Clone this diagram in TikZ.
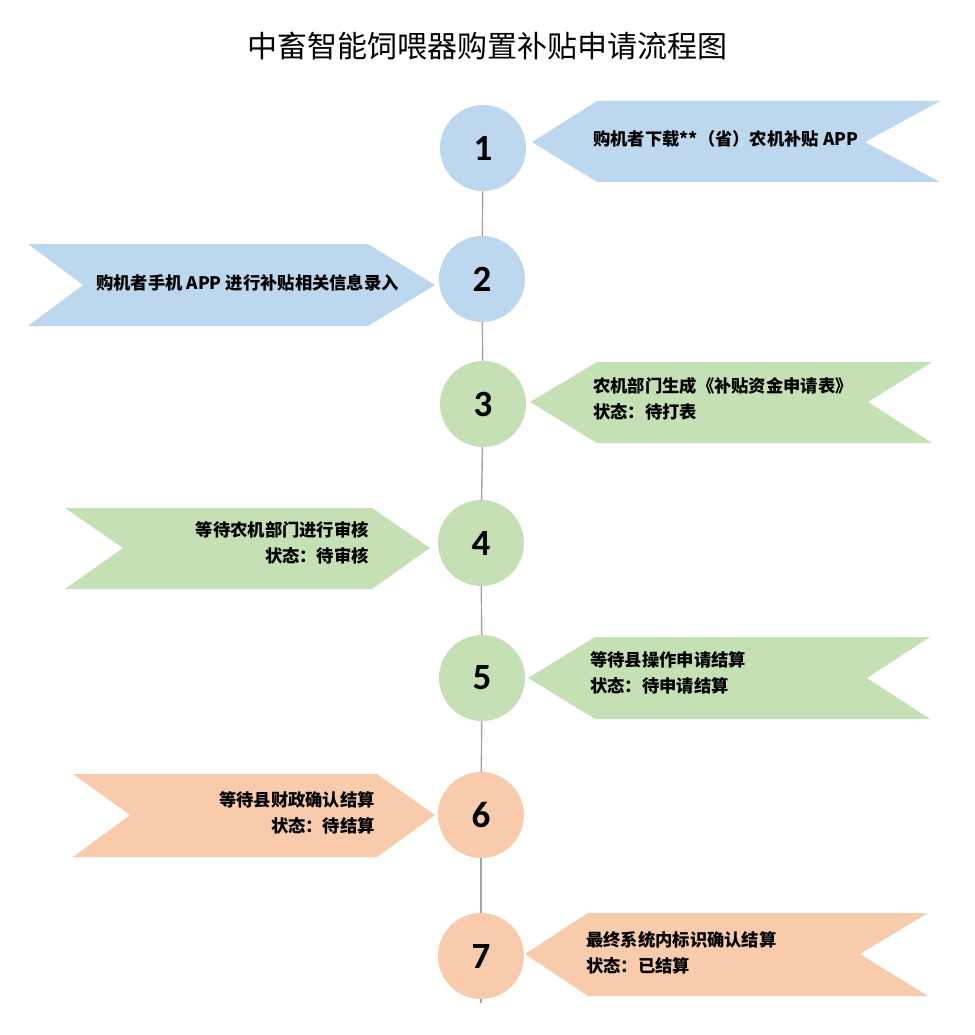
\documentclass[tikz,border=0pt]{standalone}
\usepackage{fontspec}
\newfontfamily\cjk{Noto Sans CJK SC}
\newfontfamily\numfont{Carlito}
\definecolor{cblue}{HTML}{BDD7EE}
\definecolor{cgreen}{HTML}{C5E0B4}
\definecolor{corange}{HTML}{F8CBAD}
\definecolor{lgray}{HTML}{A6A6A6}
\tikzset{
  stepcirc/.style={circle,inner sep=0pt,minimum size=86pt,font=\numfont\bfseries\fontsize{37}{37}\selectfont},
  lbltext/.style={inner sep=0pt,font=\cjk\bfseries\fontsize{17.3}{26}\selectfont},
  linkline/.style={draw=lgray,line width=1.4pt},
}
\begin{document}
\begin{tikzpicture}[x=1pt,y=-1pt]
\useasboundingbox (0,0) rectangle (974,1035);
\node[font=\cjk\fontsize{30}{30}\selectfont] (title) at (487,46) {中畜智能饲喂器购置补贴申请流程图};
% banners
\fill[cblue] (532,142) -- (597,101) -- (940,101) -- (865,142) -- (940,182) -- (597,182) -- cycle;
\fill[cblue] (28,244) -- (368,244) -- (435,285) -- (368,326) -- (28,326) -- (83,285) -- cycle;
\fill[cgreen] (530,402) -- (597,362) -- (932,362) -- (868,402) -- (932,443) -- (597,443) -- cycle;
\fill[cgreen] (65,508) -- (372,508) -- (430,548) -- (372,589) -- (65,589) -- (123,548) -- cycle;
\fill[cgreen] (528,678) -- (595,637) -- (930,637) -- (867,678) -- (930,719) -- (595,719) -- cycle;
\fill[corange] (73,774) -- (377,774) -- (435,815) -- (377,857) -- (73,857) -- (130,815) -- cycle;
\fill[corange] (525,954) -- (588,913) -- (928,913) -- (860,954) -- (928,996) -- (588,996) -- cycle;
% circles
\node[stepcirc,fill=cblue] (c1) at (483,148) {1};
\node[stepcirc,fill=cblue] (c2) at (482,279) {2};
\node[stepcirc,fill=cgreen] (c3) at (483,404) {3};
\node[stepcirc,fill=cgreen] (c4) at (481,543) {4};
\node[stepcirc,fill=cgreen] (c5) at (482,678) {5};
\node[stepcirc,fill=corange] (c6) at (481,815) {6};
\node[stepcirc,fill=corange] (c7) at (481,956) {7};
\coordinate (lend) at (481,1003);
\draw[linkline] (c1) -- (c2);
\draw[linkline] (c2) -- (c3);
\draw[linkline] (c3) -- (c4);
\draw[linkline] (c4) -- (c5);
\draw[linkline] (c5) -- (c6);
\draw[linkline] (c6) -- (c7);
\draw[linkline] (c7) -- (lend);
% texts
\node[lbltext,anchor=west] (t1) at (593,139) {购机者下载**（省）农机补贴 APP};
\node[lbltext,anchor=west] (t2) at (96,283) {购机者手机 APP 进行补贴相关信息录入};
\node[lbltext,anchor=west,align=left] (t3) at (593,399) {农机部门生成《补贴资金申请表》\\状态：待打表};
\node[lbltext,anchor=east,align=right] (t4) at (369,543) {等待农机部门进行审核\\状态：待审核};
\node[lbltext,anchor=west,align=left] (t5) at (590,673) {等待县操作申请结算\\状态：待申请结算};
\node[lbltext,anchor=east,align=right] (t6) at (375,813) {等待县财政确认结算\\状态：待结算};
\node[lbltext,anchor=west,align=left] (t7) at (586,953) {最终系统内标识确认结算\\状态：已结算};
\end{tikzpicture}
\end{document}
